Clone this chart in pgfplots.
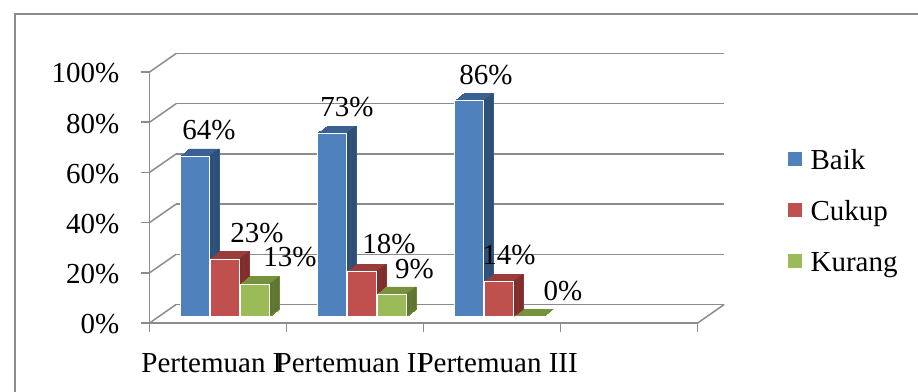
\documentclass[border=0pt]{standalone}
\usepackage{pgfplots}
\pgfplotsset{compat=1.18}
\usepackage{pgfplotstable}
\usepackage{fontspec}
\setmainfont{Liberation Serif}
\definecolor{bfront}{HTML}{4F81BD}
\definecolor{btop}{HTML}{3B6093}
\definecolor{bside}{HTML}{2E5077}
\definecolor{rfront}{HTML}{C0504D}
\definecolor{rtop}{HTML}{9B3C3A}
\definecolor{rside}{HTML}{7E2F2D}
\definecolor{gfront}{HTML}{9BBB59}
\definecolor{gtop}{HTML}{76923C}
\definecolor{gside}{HTML}{5E7630}
\definecolor{gridgray}{HTML}{8C8C8C}
\newcommand{\bigfont}{\fontsize{29bp}{34bp}\selectfont}

\pgfplotstableread{
x    baik cukup kurang
0.55 64   23    13
1.55 73   18    9
2.55 86   14    0
}\data

\begin{document}
\begin{tikzpicture}
\draw[gridgray, line width=2bp] (15bp,-5bp) -- (15bp,378bp) -- (925bp,378bp);
\begin{axis}[
  at={(149.6bp,69bp)}, anchor=south west,
  scale only axis, width=548.1bp, height=251bp,
  xmin=0, xmax=4, ymin=0, ymax=100, clip=false,
  axis x line*=bottom, axis y line*=left,
  axis line style={gridgray, line width=1.5bp},
  every tick/.style={gridgray, line width=1.5bp},
  tick align=outside, major tick length=9bp,
  ytick={0,20,40,60,80,100},
  yticklabel={\pgfmathprintnumber{\tick}\%},
  xtick={0,1,2,3,4}, xticklabels={},
  extra x ticks={0.455,1.47,2.54},
  extra x tick labels={Pertemuan I,Pertemuan II,Pertemuan III},
  extra x tick style={major tick length=0pt},
  tick label style={font=\bigfont, text=black},
  yticklabel style={inner sep=0pt, anchor=east, xshift=-21bp, yshift=-1.5bp},
  xticklabel style={inner sep=0pt, anchor=north, yshift=-30bp},
  /pgf/number format/assume math mode=true,
  legend style={at={(1.1648,0.45)}, anchor=west, draw=none, fill=none,
    inner sep=0pt, row sep=31bp, font=\bigfont,
    nodes={inner sep=0pt, text height=20bp, text depth=0bp}},
  legend cell align=left,
]
% back wall and side wall grid
\pgfplotsinvokeforeach{0,20,40,60,80,100}{
  \addplot[gridgray, line width=1.5bp, xshift=26.5bp, yshift=18.5bp, forget plot] coordinates {(0,#1) (4,#1)};
  \draw[gridgray, line width=1.5bp] (axis cs:0,#1) -- ++(26.5bp,18.5bp);
}
\draw[gridgray, line width=1.5bp] (axis cs:4,0) -- ++(26.5bp,18.5bp);

% ---- Baik extrusion
\pgfplotsinvokeforeach{1,2,3,4,5,6,7,8}{
  \addplot[ybar, bar width=29.5bp, bar shift=0pt, fill=btop, draw=btop, line width=0.4bp,
    xshift={-30bp+#1*1.2bp}, yshift={6.3bp+#1*0.9125bp}, forget plot] table[x=x,y=baik]{\data};
}
\pgfplotsinvokeforeach{1,2,3,4,5,6,7,8}{
  \addplot[ybar, bar width=1.3bp, bar shift=0pt, fill=bside, draw=none,
    xshift={-30bp+14.75bp+(#1-0.5)*1.2bp}, yshift={6.3bp+#1*0.9125bp}, forget plot] table[x=x,y=baik]{\data};
}
% ---- Cukup extrusion
\pgfplotsinvokeforeach{1,2,3,4,5,6,7,8}{
  \addplot[ybar, bar width=29.5bp, bar shift=0pt, fill=rtop, draw=rtop, line width=0.4bp,
    xshift={#1*1.2bp}, yshift={6.3bp+#1*0.9125bp}, forget plot] table[x=x,y=cukup]{\data};
}
\pgfplotsinvokeforeach{1,2,3,4,5,6,7,8}{
  \addplot[ybar, bar width=1.3bp, bar shift=0pt, fill=rside, draw=none,
    xshift={14.75bp+(#1-0.5)*1.2bp}, yshift={6.3bp+#1*0.9125bp}, forget plot] table[x=x,y=cukup]{\data};
}
% ---- Kurang extrusion
\pgfplotsinvokeforeach{1,2,3,4,5,6,7,8}{
  \addplot[ybar, bar width=29.5bp, bar shift=0pt, fill=gtop, draw=gtop, line width=0.6bp,
    xshift={30bp+#1*1.2bp}, yshift={6.3bp+#1*0.9125bp}, forget plot] table[x=x,y=kurang]{\data};
}
\pgfplotsinvokeforeach{1,2,3,4,5,6,7,8}{
  \addplot[ybar, bar width=1.3bp, bar shift=0pt, fill=gside, draw=none,
    xshift={30bp+14.75bp+(#1-0.5)*1.2bp}, yshift={6.3bp+#1*0.9125bp}, forget plot] table[x=x,y=kurang]{\data};
}
% ---- fronts
\addplot[ybar, bar width=29.5bp, bar shift=-30bp, fill=bfront, draw=white, line width=0.8bp, yshift=6.3bp, forget plot] table[x=x,y=baik]{\data};
\addplot[ybar, bar width=29.5bp, bar shift=0bp, fill=rfront, draw=white, line width=0.8bp, yshift=6.3bp, forget plot] table[x=x,y=cukup]{\data};
\addplot[ybar, bar width=29.5bp, bar shift=30bp, fill=gfront, draw=white, line width=0.8bp, yshift=6.3bp, forget plot] table[x=x,y=kurang]{\data};

% legend
\addlegendimage{legend image code/.code={\fill[bfront] (0bp,-6.5bp) rectangle (13bp,6.5bp); \path (22bp,0bp);}}
\addlegendentry{Baik}
\addlegendimage{legend image code/.code={\fill[rfront] (0bp,-6.5bp) rectangle (13bp,6.5bp); \path (22bp,0bp);}}
\addlegendentry{Cukup}
\addlegendimage{legend image code/.code={\fill[gfront] (0bp,-6.5bp) rectangle (13bp,6.5bp); \path (22bp,0bp);}}
\addlegendentry{Kurang}

% data labels
\node[font=\bigfont, inner sep=0pt] at (axis cs:0.4335,76.9) {64\%};
\node[font=\bigfont, inner sep=0pt] at (axis cs:1.4405,86.2) {73\%};
\node[font=\bigfont, inner sep=0pt] at (axis cs:2.455,98.8) {86\%};
\node[font=\bigfont, inner sep=0pt] at (axis cs:0.784,36.0) {23\%};
\node[font=\bigfont, inner sep=0pt] at (axis cs:1.0246,26.3) {13\%};
\node[font=\bigfont, inner sep=0pt] at (axis cs:1.747,31.5) {18\%};
\node[font=\bigfont, inner sep=0pt] at (axis cs:1.933,21.5) {9\%};
\node[font=\bigfont, inner sep=0pt] at (axis cs:2.623,26.9) {14\%};
\node[font=\bigfont, inner sep=0pt] at (axis cs:3.017,12.7) {0\%};
\end{axis}
\pgfresetboundingbox
\path[use as bounding box] (0,0) rectangle (918bp,392bp);
\end{tikzpicture}
\end{document}
